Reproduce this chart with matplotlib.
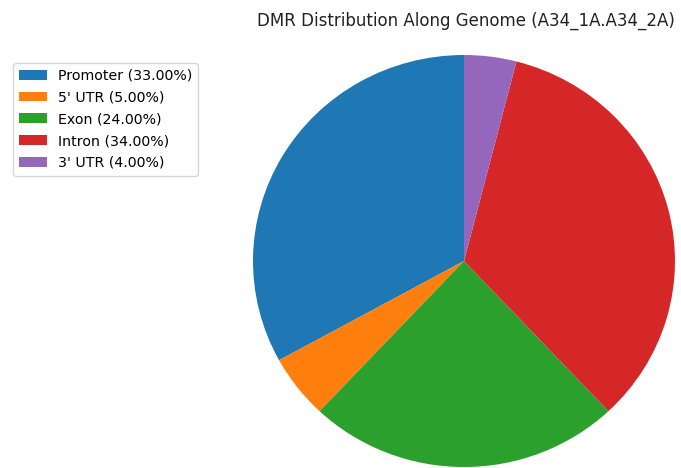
import matplotlib
matplotlib.use("Agg")
import matplotlib.pyplot as plt

# region labels and percentages
labels = ["Promoter", "5' UTR", "Exon", "Intron", "3' UTR"]
shares = [33.0, 5.0, 24.0, 34.0, 4.0]
colors = ["#1f77b4", "#ff7f0e", "#2ca02c", "#d62728", "#9467bd"]
title = "DMR Distribution Along Genome (A34_1A.A34_2A)"


def main():
    fig = plt.figure(figsize=(6.81, 4.68), dpi=100)
    # axes placed to where the pie sits in the reference
    ax = fig.add_axes([253 / 681, 1 / 468, 422 / 681, 412 / 468])
    wedges, _ = ax.pie(shares, colors=colors, startangle=90)
    ax.set_aspect("auto")
    ax.set_xlim(-1, 1)
    ax.set_ylim(-1, 1)

    fig.text(466 / 681, 1 - 21 / 468, title, ha="center", va="center", fontsize=12, color="#222222")

    leg_labels = [f"{l} ({v:.2f}%)" for l, v in zip(labels, shares)]
    fig.legend(wedges, leg_labels, loc="upper left",
               bbox_to_anchor=(13 / 681, 1 - 63 / 468), fontsize=10.2,
               labelspacing=0.55, borderaxespad=0, frameon=True)

    fig.savefig("out.png", dpi=100)


if __name__ == "__main__":
    main()
